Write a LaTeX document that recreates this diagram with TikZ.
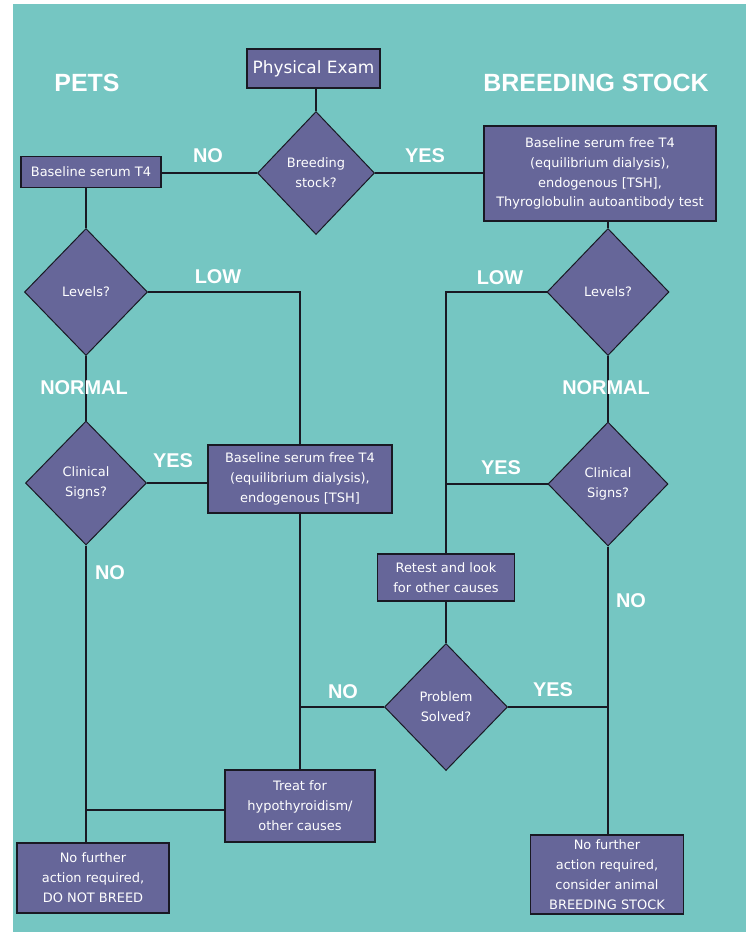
\documentclass[tikz,border=0pt]{standalone}
\usepackage{fontspec}
\setmainfont{DejaVu Sans}
\newfontfamily\labfont{Liberation Sans}
\usetikzlibrary{shapes.geometric}
\definecolor{teal0}{RGB}{117,198,194}
\definecolor{purp}{RGB}{102,102,153}
\definecolor{edge}{RGB}{25,25,35}
\begin{document}
\begin{tikzpicture}[x=1bp,y=-1bp,
 box/.style={draw=edge, fill=purp, line width=1.3bp, text=white, align=center, inner sep=0pt, font=\fontsize{13}{20}\selectfont},
 dia/.style={diamond, draw=edge, fill=purp, line width=1bp, text=white, align=center, inner sep=0pt, font=\fontsize{13}{20}\selectfont},
 lab/.style={text=white, inner sep=0pt, font=\labfont\bfseries\fontsize{20}{20}\selectfont},
 head/.style={text=white, inner sep=0pt, font=\labfont\bfseries\fontsize{25}{26}\selectfont},
 conn/.style={line width=1.3bp, draw=edge}]
\fill[white] (0,0) rectangle (746,932);
\fill[teal0] (13,4) rectangle (746,932);
\useasboundingbox (0,0) rectangle (746,932);

% nodes
\node[box, minimum width=133bp, minimum height=39bp, font=\fontsize{17}{20}\selectfont] (pe) at (313.5,68.5) {Physical Exam};
\node[dia, minimum width=117bp, minimum height=123bp] (bs) at (316,173) {Breeding\\stock?};
\node[box, minimum width=140bp, minimum height=31bp] (bt4) at (91,172) {Baseline serum T4};
\node[box, minimum width=232bp, minimum height=95bp] (rb1) at (600,173.5) {Baseline serum free T4\\(equilibrium dialysis),\\endogenous [TSH],\\Thyroglobulin autoantibody test};
\node[dia, minimum width=123bp, minimum height=127bp] (lv1) at (86,292) {Levels?};
\node[dia, minimum width=122bp, minimum height=127bp] (lv2) at (608,292) {Levels?};
\node[dia, minimum width=121bp, minimum height=124bp] (cs1) at (86,483) {Clinical\\Signs?};
\node[dia, minimum width=120bp, minimum height=124bp] (cs2) at (608,484) {Clinical\\Signs?};
\node[box, minimum width=184bp, minimum height=68bp] (mb) at (300,479) {Baseline serum free T4\\(equilibrium dialysis),\\endogenous [TSH]};
\node[box, minimum width=137bp, minimum height=47bp] (rt) at (446,577.5) {Retest and look\\for other causes};
\node[dia, minimum width=123bp, minimum height=127bp] (ps) at (446,707) {Problem\\Solved?};
\node[box, minimum width=150bp, minimum height=72bp] (tr) at (300,806) {Treat for\\hypothyroidism/\\other causes};
\node[box, minimum width=152bp, minimum height=70bp] (fl) at (93,878) {No further\\action required,\\DO NOT BREED};
\node[box, minimum width=153bp, minimum height=79bp] (fr) at (607,874.5) {No further\\action required,\\consider animal\\BREEDING STOCK};

% connectors
\draw[conn] (bs.north |- pe.south) -- (bs.north);
\draw[conn] (bs.west -| bt4.east) -- (bs.west);
\draw[conn] (bs.east) -- (bs.east -| rb1.west);
\draw[conn] (lv1.north |- bt4.south) -- (lv1.north);
\draw[conn] (lv2.north |- rb1.south) -- (lv2.north);
\draw[conn] (lv1.east) -| (mb.north);
\draw[conn] (lv1.south) -- (cs1.north);
\draw[conn] (cs1.east) -- (cs1.east -| mb.west);
\draw[conn] (cs1.south) -- (cs1.south |- fl.north);
\coordinate (trw) at ([yshift=-4bp]tr.west);
\draw[conn] (trw) -- (trw -| cs1.south);
\draw[conn] (mb.south) -- (tr.north);
\draw[conn] (ps.west) -- (ps.west -| mb.south);
\draw[conn] (lv2.west) -| (rt.north);
\draw[conn] (cs2.west) -- (cs2.west -| rt.north);
\draw[conn] (rt.south) -- (ps.north);
\draw[conn] (cs2.south) -- (cs2.south |- fr.north);
\draw[conn] (ps.east) -- (ps.east -| cs2.south);
\draw[conn] (lv2.south) -- (cs2.north);

% labels
\node[head] (hpets) at (87,83) {PETS};
\node[head] (hbs) at (596,83) {BREEDING STOCK};
\node[lab] (l1) at (208,156) {NO};
\node[lab] (l2) at (425,156) {YES};
\node[lab] (l3) at (218,277) {LOW};
\node[lab] (l4) at (500,278) {LOW};
\node[lab] (l5) at (84,388) {NORMAL};
\node[lab] (l6) at (606,388) {NORMAL};
\node[lab] (l7) at (173,461) {YES};
\node[lab] (l8) at (501,468) {YES};
\node[lab] (l9) at (110,573) {NO};
\node[lab] (l10) at (631,601) {NO};
\node[lab] (l11) at (343,692) {NO};
\node[lab] (l12) at (553,690) {YES};
\end{tikzpicture}
\end{document}
